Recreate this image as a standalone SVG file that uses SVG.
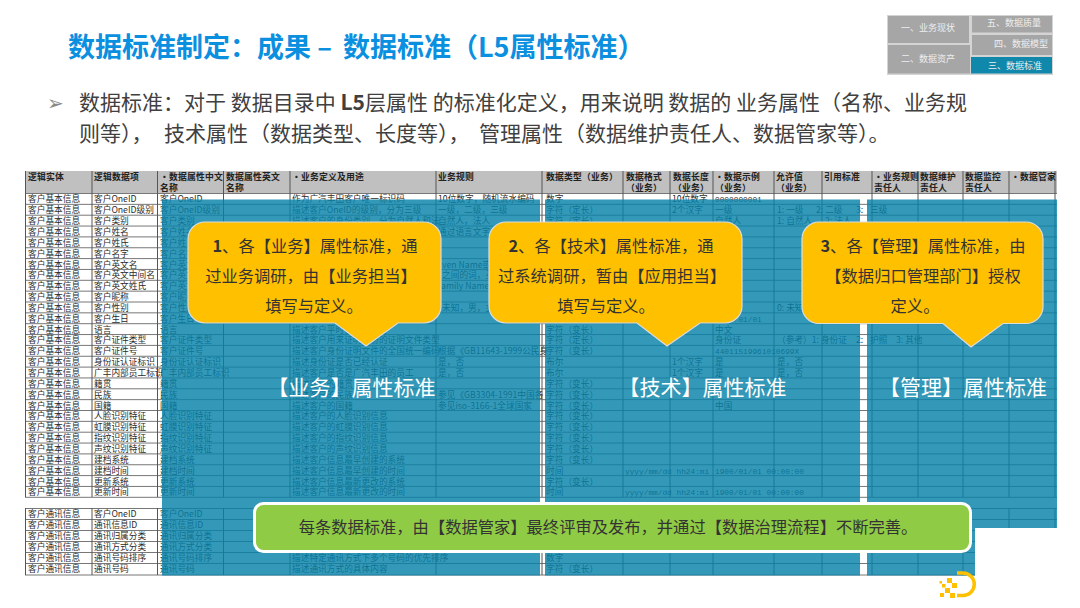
<svg xmlns="http://www.w3.org/2000/svg" width="1080" height="608" viewBox="0 0 1080 608">
<style>
text{font-family:"Noto Sans CJK SC","Noto Sans",sans-serif}
.c{font-size:8.7px;fill:#2b2b2b}
.h{font-size:8.8px;font-weight:700;fill:#222;letter-spacing:.2px}
.m{font-family:"Liberation Mono",monospace;font-size:7.8px;fill:#2b2b2b}
.n{font-size:9px;fill:#eee;text-anchor:middle}
.k{font-size:16.300px;fill:#333;text-anchor:middle}
.w{font-size:21px;fill:#fff;text-anchor:middle}
.b{font-size:21px;fill:#404040}
.call{fill:#ffc000;stroke:#dcdcdc;stroke-width:1.2}
.cell{fill:#a6a6a6}
.panel{fill:#0782aa;fill-opacity:.82}
.sq{fill:#ffc000}
</style>
<rect width="1080" height="608" fill="#fff"/>
<g id="nav">
<rect x="887" y="15" width="166" height="60" fill="#d4d4d4"/>
<rect class="cell" x="888" y="16" width="81" height="27"/>
<rect class="cell" x="888" y="45" width="82" height="28.500"/>
<rect class="cell" x="972" y="16" width="80" height="16.500"/>
<rect class="cell" x="972" y="35" width="80" height="20"/>
<rect x="971" y="57" width="81" height="16.500" fill="#0f88ab"/>
<text class="n" x="928" y="31">一、业务现状</text>
<text class="n" x="928" y="62">二、数据资产</text>
<text class="n" x="1014" y="26">五、数据质量</text>
<text class="n" x="1021" y="47">四、数据模型</text>
<text class="n" x="1015" y="69">三、数据标准</text>
</g>
<text id="title" x="68" y="57" font-size="27" font-weight="700" fill="#0b8fdf" xml:space="preserve">数据标准制定：成果 – <tspan dx="5">数据标准（L5属性标准）</tspan></text>
<g id="intro">
<text x="47" y="110" font-size="20" fill="#888" style="font-family:'DejaVu Sans',sans-serif">➢</text>
<text class="b" x="79" y="110" xml:space="preserve">数据标准：对于 数据目录中 <tspan font-weight="700">L5</tspan>层属性 的标准化定义，用来说明 数据的 业务属性（名称、业务规</text>
<text class="b" x="79" y="141">则等），<tspan x="164">技术属性</tspan><tspan x="249">（数据类型、长度等），</tspan><tspan x="479">管理属性</tspan><tspan x="564">（数据维护责任人、数据管家等）。</tspan></text>
</g>
<g id="table">
<rect x="25" y="171" width="1032" height="22.500" fill="#c0c0c0"/>
<path fill="none" stroke="#777" stroke-width="1" d="M25 193.500H1057M25 204.350H1057M25 215.200H1057M25 226.050H1057M25 236.900H1057M25 247.750H1057M25 258.600H1057M25 269.450H1057M25 280.300H1057M25 291.150H1057M25 302H1057M25 312.850H1057M25 323.700H1057M25 334.550H1057M25 345.400H1057M25 356.250H1057M25 367.100H1057M25 377.950H1057M25 388.800H1057M25 399.650H1057M25 410.500H1057M25 421.350H1057M25 432.200H1057M25 443.050H1057M25 453.900H1057M25 464.750H1057M25 475.600H1057M25 486.450H1057M25 497.300H1057M25 508.500H1057M25 519.500H1057M25 530.500H1057M25 541.500H1057M25 552.500H1057M25 563.500H1057M25 575H1057"/>
<path fill="none" stroke="#555" stroke-width="1" d="M25.500 171V497M92 171V497M157.500 171V497M223.500 171V497M290 171V497M436 171V497M542 171V497M623 171V497M670 171V497M713 171V497M774 171V497M822 171V497M872 171V497M918 171V497M963 171V497M1009 171V497M1055 171V497M25.500 508V575M92 508V575M157.500 508V575M223.500 508V575M290 508V575M436 508V575M542 508V575M623 508V575M670 508V575M713 508V575M774 508V575M822 508V575M872 508V575M918 508V575M963 508V575M1009 508V575M1055 508V575"/>
<g class="h">
<text class="h" x="28" y="180">逻辑实体</text>
<text class="h" x="94" y="180">逻辑数据项</text>
<text class="h" x="160" y="180">•数据属性中文</text><text class="h" x="160" y="191">名称</text>
<text class="h" x="226" y="180">数据属性英文</text><text class="h" x="226" y="191">名称</text>
<text class="h" x="292" y="180">•业务定义及用途</text>
<text class="h" x="438" y="180">业务规则</text>
<text class="h" x="546" y="180">数据类型（业务）</text>
<text class="h" x="626" y="180">数据格式</text><text class="h" x="626" y="191">（业务）</text>
<text class="h" x="673" y="180">数据长度</text><text class="h" x="673" y="191">（业务）</text>
<text class="h" x="715" y="180">•数据示例</text><text class="h" x="715" y="191">（业务）</text>
<text class="h" x="776" y="180">允许值</text><text class="h" x="776" y="191">（业务）</text>
<text class="h" x="824" y="180">引用标准</text>
<text class="h" x="874" y="180">•业务规则</text><text class="h" x="874" y="191">责任人</text>
<text class="h" x="920" y="180">数据维护</text><text class="h" x="920" y="191">责任人</text>
<text class="h" x="965" y="180">数据监控</text><text class="h" x="965" y="191">责任人</text>
<text class="h" x="1011" y="180">•数据管家</text>
</g>
<g>
<text class="c" x="28" y="202.400">客户基本信息</text><text class="c" x="28" y="213.250">客户基本信息</text><text class="c" x="28" y="224.100">客户基本信息</text><text class="c" x="28" y="234.950">客户基本信息</text><text class="c" x="28" y="245.800">客户基本信息</text><text class="c" x="28" y="256.650">客户基本信息</text><text class="c" x="28" y="267.500">客户基本信息</text><text class="c" x="28" y="278.350">客户基本信息</text><text class="c" x="28" y="289.200">客户基本信息</text><text class="c" x="28" y="300.050">客户基本信息</text><text class="c" x="28" y="310.900">客户基本信息</text><text class="c" x="28" y="321.750">客户基本信息</text><text class="c" x="28" y="332.600">客户基本信息</text><text class="c" x="28" y="343.450">客户基本信息</text><text class="c" x="28" y="354.300">客户基本信息</text><text class="c" x="28" y="365.150">客户基本信息</text><text class="c" x="28" y="376">客户基本信息</text><text class="c" x="28" y="386.850">客户基本信息</text><text class="c" x="28" y="397.700">客户基本信息</text><text class="c" x="28" y="408.550">客户基本信息</text><text class="c" x="28" y="419.400">客户基本信息</text><text class="c" x="28" y="430.250">客户基本信息</text><text class="c" x="28" y="441.100">客户基本信息</text><text class="c" x="28" y="451.950">客户基本信息</text><text class="c" x="28" y="462.800">客户基本信息</text><text class="c" x="28" y="473.650">客户基本信息</text><text class="c" x="28" y="484.500">客户基本信息</text><text class="c" x="28" y="495.350">客户基本信息</text>
<text class="c" x="28" y="517.400">客户通讯信息</text><text class="c" x="28" y="528.400">客户通讯信息</text><text class="c" x="28" y="539.400">客户通讯信息</text><text class="c" x="28" y="550.400">客户通讯信息</text><text class="c" x="28" y="561.400">客户通讯信息</text><text class="c" x="28" y="572.400">客户通讯信息</text>
</g>
<g>
<text class="c" x="94" y="202.400">客户OneID</text><text class="c" x="94" y="213.250">客户OneID级别</text><text class="c" x="94" y="224.100">客户类别</text><text class="c" x="94" y="234.950">客户姓名</text><text class="c" x="94" y="245.800">客户姓氏</text><text class="c" x="94" y="256.650">客户名字</text><text class="c" x="94" y="267.500">客户英文名</text><text class="c" x="94" y="278.350">客户英文中间名</text><text class="c" x="94" y="289.200">客户英文姓氏</text><text class="c" x="94" y="300.050">客户昵称</text><text class="c" x="94" y="310.900">客户性别</text><text class="c" x="94" y="321.750">客户生日</text><text class="c" x="94" y="332.600">语言</text><text class="c" x="94" y="343.450">客户证件类型</text><text class="c" x="94" y="354.300">客户证件号</text><text class="c" x="94" y="365.150">身份证认证标识</text><text class="c" x="94" y="376">广丰内部员工标识</text><text class="c" x="94" y="386.850">籍贯</text><text class="c" x="94" y="397.700">民族</text><text class="c" x="94" y="408.550">国籍</text><text class="c" x="94" y="419.400">人脸识别特征</text><text class="c" x="94" y="430.250">虹膜识别特征</text><text class="c" x="94" y="441.100">指纹识别特征</text><text class="c" x="94" y="451.950">声纹识别特征</text><text class="c" x="94" y="462.800">建档系统</text><text class="c" x="94" y="473.650">建档时间</text><text class="c" x="94" y="484.500">更新系统</text><text class="c" x="94" y="495.350">更新时间</text>
<text class="c" x="94" y="517.400">客户OneID</text><text class="c" x="94" y="528.400">通讯信息ID</text><text class="c" x="94" y="539.400">通讯归属分类</text><text class="c" x="94" y="550.400">通讯方式分类</text><text class="c" x="94" y="561.400">通讯号码排序</text><text class="c" x="94" y="572.400">通讯号码</text>
</g>
<g>
<text class="c" x="160" y="202.400">客户OneID</text><text class="c" x="160" y="213.250">客户OneID级别</text><text class="c" x="160" y="224.100">客户类别</text><text class="c" x="160" y="234.950">客户姓名</text><text class="c" x="160" y="245.800">客户姓氏</text><text class="c" x="160" y="256.650">客户名字</text><text class="c" x="160" y="267.500">客户英文名</text><text class="c" x="160" y="278.350">客户英文中间名</text><text class="c" x="160" y="289.200">客户英文姓氏</text><text class="c" x="160" y="300.050">客户昵称</text><text class="c" x="160" y="310.900">客户性别</text><text class="c" x="160" y="321.750">客户生日</text><text class="c" x="160" y="332.600">语言</text><text class="c" x="160" y="343.450">客户证件类型</text><text class="c" x="160" y="354.300">客户证件号</text><text class="c" x="160" y="365.150">身份证认证标识</text><text class="c" x="160" y="376">广丰内部员工标识</text><text class="c" x="160" y="386.850">籍贯</text><text class="c" x="160" y="397.700">民族</text><text class="c" x="160" y="408.550">国籍</text><text class="c" x="160" y="419.400">人脸识别特征</text><text class="c" x="160" y="430.250">虹膜识别特征</text><text class="c" x="160" y="441.100">指纹识别特征</text><text class="c" x="160" y="451.950">声纹识别特征</text><text class="c" x="160" y="462.800">建档系统</text><text class="c" x="160" y="473.650">建档时间</text><text class="c" x="160" y="484.500">更新系统</text><text class="c" x="160" y="495.350">更新时间</text>
<text class="c" x="160" y="517.400">客户OneID</text><text class="c" x="160" y="528.400">通讯信息ID</text><text class="c" x="160" y="539.400">通讯归属分类</text><text class="c" x="160" y="550.400">通讯方式分类</text><text class="c" x="160" y="561.400">通讯号码排序</text><text class="c" x="160" y="572.400">通讯号码</text>
</g>
<g>
<text class="c" x="292" y="202.400">作为广汽丰田客户唯一标识码</text><text class="c" x="292" y="213.250">描述客户OneID的级别，分为三级</text><text class="c" x="292" y="224.100">描述客户的身份类别，分为自然人和法</text><text class="c" x="292" y="332.600">描述客户平时使用的语言</text><text class="c" x="292" y="343.450">描述客户用来证明身份的证明文件类型</text><text class="c" x="292" y="354.300">描述客户身份证明文件的全国统一编码</text><text class="c" x="292" y="365.150">描述身份证是否已经认证</text><text class="c" x="292" y="376">描述客户是否是广汽丰田的员工</text><text class="c" x="292" y="386.850">描述客户的籍贯</text><text class="c" x="292" y="397.700">描述客户的民族</text><text class="c" x="292" y="408.550">描述客户的国籍</text><text class="c" x="292" y="419.400">描述客户的人脸识别信息</text><text class="c" x="292" y="430.250">描述客户的虹膜识别信息</text><text class="c" x="292" y="441.100">描述客户的指纹识别信息</text><text class="c" x="292" y="451.950">描述客户的声纹识别信息</text><text class="c" x="292" y="462.800">描述客户信息最早创建的系统</text><text class="c" x="292" y="473.650">描述客户信息最早创建的时间</text><text class="c" x="292" y="484.500">描述客户信息最新更改的系统</text><text class="c" x="292" y="495.350">描述客户信息最新更改的时间</text><text class="c" x="292" y="561.400">描述特定通讯方式下多个号码的优先排序</text><text class="c" x="292" y="572.400">描述通讯方式的具体内容</text>
</g>
<g>
<text class="c" x="438" y="202.400">10位数字，随机流水编码</text><text class="c" x="438" y="213.250">一级，二级，三级</text><text class="c" x="438" y="224.100">自然人，法人</text><text class="c" x="438" y="234.950">通过语言文字</text><text class="c" x="442" y="267.500">ven Name或称</text><text class="c" x="442" y="278.350">之间的词，英</text><text class="c" x="441" y="289.200">amily Name</text><text class="c" x="442" y="310.900">未知，男，女</text><text class="c" x="438" y="354.300">根据《GB11643-1999公民身</text><text class="c" x="438" y="365.150">是，否</text><text class="c" x="438" y="376">是，否</text><text class="c" x="438" y="397.700">参见《GB3304-1991中国各</text><text class="c" x="438" y="408.550">参见iso-3166-1全球国家</text>
</g>
<g>
<text class="c" x="546" y="202.400">数字</text><text class="c" x="546" y="213.250">字符（定长）</text><text class="c" x="546" y="224.100">字符（定长）</text><text class="c" x="546" y="332.600">字符（变长）</text><text class="c" x="546" y="343.450">字符（定长）</text><text class="c" x="546" y="354.300">字符（变长）</text><text class="c" x="546" y="365.150">布尔</text><text class="c" x="546" y="376">布尔</text><text class="c" x="546" y="386.850">字符（变长）</text><text class="c" x="546" y="397.700">字符（变长）</text><text class="c" x="546" y="408.550">字符（变长）</text><text class="c" x="546" y="419.400">字符（变长）</text><text class="c" x="546" y="430.250">字符（变长）</text><text class="c" x="546" y="441.100">字符（变长）</text><text class="c" x="546" y="451.950">字符（变长）</text><text class="c" x="546" y="462.800">字符（变长）</text><text class="c" x="546" y="473.650">时间</text><text class="c" x="546" y="484.500">字符（变长）</text><text class="c" x="546" y="495.350">时间</text><text class="c" x="546" y="561.400">数字</text><text class="c" x="546" y="572.400">字符（变长）</text>
</g>
<g>
<text class="m" x="625" y="473.650">yyyy/mm/dd hh24:mi</text><text class="m" x="625" y="495.350">yyyy/mm/dd hh24:mi</text>
<text class="c" x="672" y="202.400">10位数字</text><text class="c" x="672" y="213.250">2个汉字</text><text class="c" x="672" y="365.150">1个汉字</text><text class="c" x="672" y="376">1个汉字</text>
<text class="m" x="715" y="202.400">0000000001</text><text class="c" x="715" y="213.250">一级</text><text class="c" x="715" y="224.100">自然人</text><text class="m" x="715" y="321.750">1900/01/01</text><text class="c" x="715" y="332.600">中文</text><text class="c" x="715" y="343.450">身份证</text><text class="m" x="715" y="354.300">44011519961010699X</text><text class="c" x="715" y="365.150">是</text><text class="c" x="715" y="376">是</text><text class="c" x="715" y="408.550">中国</text><text class="m" x="715" y="473.650">1900/01/01 00:00:00</text><text class="m" x="715" y="495.350">1900/01/01 00:00:00</text>
<text class="c" x="777" y="213.250">1: 一级</text><text class="c" x="816" y="213.250">2: 二级</text><text class="c" x="856" y="213.250">3:</text><text class="c" x="870" y="213.250">三级</text>
<text class="c" x="777" y="224.100">1: 自然人</text><text class="c" x="825" y="224.100">2: 法人</text>
<text class="c" x="777" y="310.900">0: 未知</text>
<text class="c" x="777" y="343.450">（参考）1: 身份证</text><text class="c" x="856" y="343.450">2:</text><text class="c" x="870" y="343.450">护照</text><text class="c" x="896" y="343.450">3: 其他</text>
<text class="c" x="777" y="365.150">是，否</text><text class="c" x="777" y="376">是，否</text>
</g>
</g>
<g id="panels">
<rect class="panel" x="162" y="199.500" width="378" height="376"/>
<rect class="panel" x="545" y="199.500" width="315" height="376"/>
<rect class="panel" x="867" y="199.500" width="190" height="376"/>
<rect x="975" y="528" width="105" height="80" fill="#fff"/>
</g>
<g id="panel-labels">
<text class="w" x="351.500" y="395">【业务】属性标准</text>
<text class="w" x="702.500" y="395">【技术】属性标准</text>
<text class="w" x="963" y="395">【管理】属性标准</text>
</g>
<g id="callout-1">
<path class="call" d="M205 222H424A17 17 0 0 1 441 239V306A17 17 0 0 1 424 323H398L366 346L335 323H205A17 17 0 0 1 188 306V239A17 17 0 0 1 205 222Z"/>
<text class="k" x="315" y="252"><tspan font-weight="700">1</tspan>、各【业务】属性标准，通</text>
<text class="k" x="311" y="282">过业务调研，由【业务担当】</text>
<text class="k" x="314" y="312">填写与定义。</text>
</g>
<g id="callout-2">
<path class="call" d="M506 222H725A17 17 0 0 1 742 239V306A17 17 0 0 1 725 323H700L667 346L637 323H506A17 17 0 0 1 489 306V239A17 17 0 0 1 506 222Z"/>
<text class="k" x="611" y="252"><tspan font-weight="700">2</tspan>、各【技术】属性标准，通</text>
<text class="k" x="612" y="282">过系统调研，暂由【应用担当】</text>
<text class="k" x="606" y="312">填写与定义。</text>
</g>
<g id="callout-3">
<path class="call" d="M819 222H1026A17 17 0 0 1 1043 239V306A17 17 0 0 1 1026 323.500H1003L971 347L943 323.500H819A17 17 0 0 1 802 306V239A17 17 0 0 1 819 222Z"/>
<text class="k" x="923" y="252"><tspan font-weight="700">3</tspan>、各【管理】属性标准，由</text>
<text class="k" x="923" y="282">【数据归口管理部门】授权</text>
<text class="k" x="915" y="312">定义。</text>
</g>
<g id="summary">
<rect x="254.500" y="503.500" width="716" height="48" rx="9" fill="#8fcb45" stroke="#fff" stroke-width="3"/>
<text class="k" x="608" y="533">每条数据标准，由【数据管家】最终评审及发布，并通过【数据治理流程】不断完善。</text>
</g>
<g id="logo">
<path d="M957 573H963A11 11 0 0 1 963 595.500H957" fill="none" stroke="#ffc000" stroke-width="3.500"/>
<rect class="sq" x="939.500" y="581" width="2.500" height="2.500"/>
<rect class="sq" x="942" y="584" width="3.500" height="3.500"/>
<rect class="sq" x="947" y="578" width="5" height="5"/>
<rect class="sq" x="952" y="583" width="5" height="5"/>
<rect class="sq" x="945" y="588" width="5" height="5"/>
<rect class="sq" x="940" y="593" width="4" height="4"/>
<rect class="sq" x="950" y="593" width="5" height="5"/>
</g>
</svg>
